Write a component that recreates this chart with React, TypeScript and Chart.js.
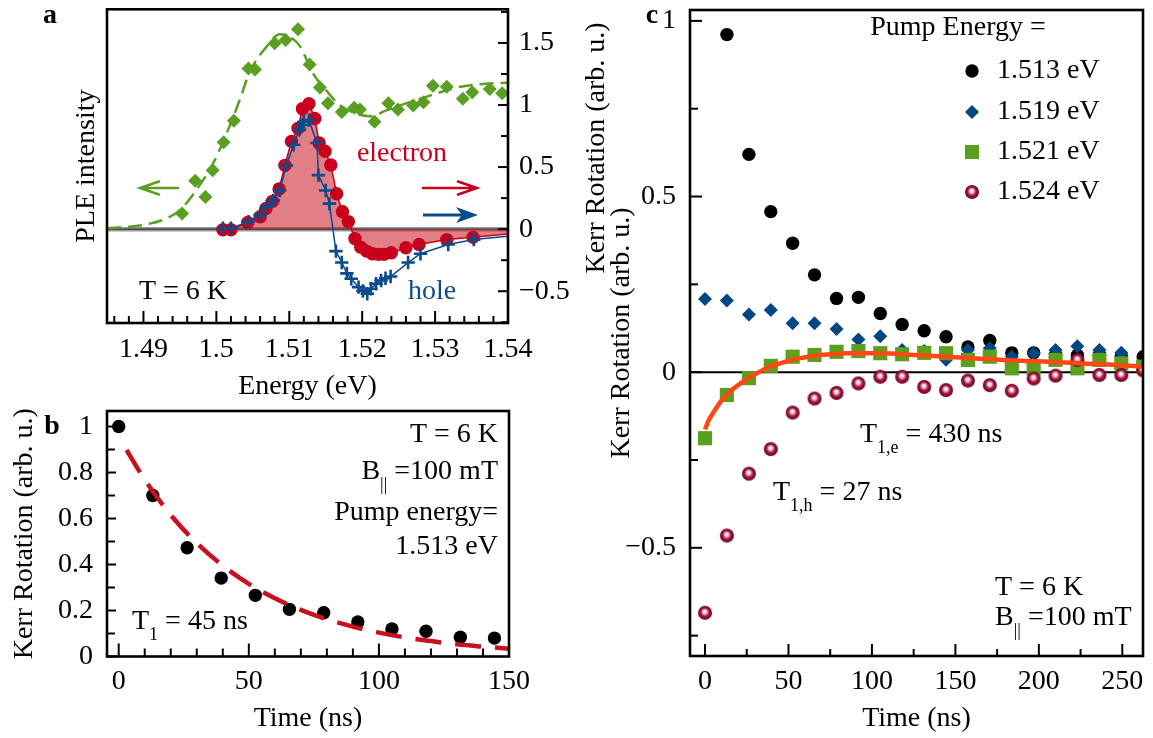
import React, { useEffect, useRef } from 'react';
import { Chart, registerables } from 'chart.js';

Chart.register(...registerables);

const FONT = '"Liberation Serif", "Times New Roman", Times, serif';
Chart.defaults.font.family = FONT;
Chart.defaults.font.size = 28;
Chart.defaults.color = '#000';

// ---------- Panel a : PLE + Kerr spectra ----------
const pleE = [1.4953, 1.4971, 1.4985, 1.4995, 1.5010, 1.5024, 1.5044, 1.5053, 1.5080, 1.5095, 1.5112, 1.5128, 1.5142, 1.5153, 1.5172, 1.5189, 1.5197, 1.5217, 1.5236, 1.5249, 1.5270, 1.5284, 1.5297, 1.5316, 1.5338, 1.5351, 1.5375, 1.5392];
const pleV = [0.127, 0.39, 0.258, 0.475, 0.70, 0.873, 1.295, 1.287, 1.498, 1.524, 1.611, 1.327, 1.142, 1.015, 0.944, 0.978, 0.963, 0.865, 1.015, 0.963, 0.997, 1.023, 1.155, 1.147, 1.05, 1.102, 1.129, 1.095];
const pleFitE = [1.485, 1.488, 1.490, 1.4932, 1.4950, 1.4973, 1.4996, 1.5014, 1.5032, 1.5046, 1.5069, 1.5087, 1.5101, 1.5115, 1.5133, 1.5151, 1.5169, 1.5192, 1.5211, 1.5233, 1.5261, 1.5293, 1.5329, 1.5361, 1.54];
const pleFitV = [0.008, 0.02, 0.034, 0.087, 0.153, 0.32, 0.535, 0.77, 1.04, 1.27, 1.47, 1.57, 1.55, 1.47, 1.25, 1.115, 1.0, 0.93, 0.91, 0.957, 1.015, 1.076, 1.14, 1.168, 1.18];
const elE = [1.5009, 1.5020, 1.5043, 1.5060, 1.5068, 1.5077, 1.5086, 1.5094, 1.5103, 1.5112, 1.5118, 1.5127, 1.5135, 1.5141, 1.5149, 1.5157, 1.5165, 1.5173, 1.5181, 1.5190, 1.5198, 1.5206, 1.5214, 1.5222, 1.5230, 1.5240, 1.5260, 1.5278, 1.5316, 1.5352];
const elV = [-0.005, -0.005, 0.053, 0.10, 0.166, 0.224, 0.324, 0.514, 0.707, 0.812, 0.97, 1.01, 0.891, 0.694, 0.628, 0.517, 0.285, 0.14, 0.061, -0.076, -0.145, -0.177, -0.198, -0.203, -0.203, -0.19, -0.15, -0.124, -0.084, -0.066];
const elEdgeE = [1.54];
const elEdgeV = [-0.04];
const holeE = [1.5009, 1.5020, 1.5044, 1.5060, 1.5069, 1.5078, 1.5087, 1.5096, 1.5106, 1.5114, 1.5117, 1.5120, 1.5127, 1.5138, 1.5140, 1.5150, 1.5155, 1.5164, 1.5172, 1.5179, 1.5185, 1.5195, 1.5201, 1.5207, 1.5212, 1.5219, 1.5226, 1.5232, 1.5239, 1.5263, 1.5280, 1.5318, 1.5353];
const holeV = [0.008, 0.008, 0.06, 0.113, 0.18, 0.232, 0.311, 0.514, 0.68, 0.80, 0.839, 0.865, 0.878, 0.694, 0.435, 0.311, 0.206, -0.177, -0.269, -0.356, -0.40, -0.467, -0.498, -0.52, -0.48, -0.44, -0.414, -0.396, -0.382, -0.269, -0.198, -0.124, -0.084];
const holeEdgeE = [1.54];
const holeEdgeV = [-0.058];
const aXTicks = [1.49, 1.5, 1.51, 1.52, 1.53, 1.54];
const aYTicks = [-0.5, 0, 0.5, 1, 1.5];

// ---------- Panel b : decay at 1.513 eV ----------
const bT = [0, 13.1, 26.3, 39.4, 52.5, 65.6, 78.8, 91.9, 105, 118.1, 131.3, 144.4];
const bV = [1.0, 0.70, 0.473, 0.341, 0.266, 0.205, 0.19, 0.15, 0.12, 0.11, 0.084, 0.08];
const bFitT = [3, 10, 20, 30, 40, 50, 60, 70, 80, 90, 100, 110, 120, 130, 140, 150];
const bFitV = [0.898, 0.769, 0.615, 0.493, 0.395, 0.316, 0.253, 0.203, 0.162, 0.130, 0.104, 0.083, 0.067, 0.053, 0.043, 0.034];
const bXTicks = [0, 50, 100, 150];
const bYTicks = [0, 0.2, 0.4, 0.6, 0.8, 1];

// ---------- Panel c : decays for four pump energies ----------
const cLabels = ['1.513 eV', '1.519 eV', '1.521 eV', '1.524 eV'];
const cT = [0, 13.1, 26.3, 39.4, 52.5, 65.6, 78.8, 91.9, 105, 118.1, 131.3, 144.4, 157.5, 170.6, 183.8, 196.9, 210, 223.1, 236.3, 249.4, 262.5];
const c1513 = [null, 0.961, 0.62, 0.457, 0.367, 0.277, 0.21, 0.213, 0.167, 0.136, 0.118, 0.101, 0.072, 0.09, 0.055, 0.055, 0.05, 0.048, 0.05, 0.046, 0.044];
const c1519 = [0.208, 0.204, 0.164, 0.177, 0.139, 0.139, 0.123, 0.093, 0.102, 0.063, 0.06, 0.035, 0.063, 0.068, 0.044, 0.054, 0.063, 0.074, 0.063, 0.055, null];
const c1521 = [-0.188, -0.065, -0.017, 0.018, 0.044, 0.049, 0.058, 0.06, 0.054, 0.051, 0.055, 0.054, 0.035, 0.044, 0.011, 0.011, 0.035, 0.011, 0.035, 0.025, 0.016];
const c1524 = [-0.685, -0.465, -0.289, -0.219, -0.115, -0.075, -0.059, -0.032, -0.013, -0.013, -0.042, -0.051, -0.024, -0.037, -0.053, -0.018, -0.01, 0.035, -0.008, -0.008, 0.005];
const cFitT = [0, 2, 5, 10, 15, 20, 25, 31, 38, 45, 55, 65, 75, 85, 105, 125, 145, 165, 185, 205, 225, 245, 262.4];
const cFitV = [-0.163, -0.139, -0.115, -0.08, -0.055, -0.036, -0.02, -0.003, 0.014, 0.025, 0.038, 0.046, 0.051, 0.054, 0.054, 0.049, 0.044, 0.038, 0.033, 0.03, 0.025, 0.021, 0.016];
const cXTicks = [0, 50, 100, 150, 200, 250];
const cYTicks = [-0.5, 0, 0.5, 1];

// ---------- colours ----------
const RED = '#c8001c';
const BLUE = '#0b4b8c';
const GREEN = '#5a9e22';
const FIT_RED = '#c8101e';
const ORANGE = '#ff4814';
const C_BLUE = '#004783';
const C_GREEN = '#5aa01e';

const pts = (xs: number[], ys: (number | null)[]) =>
  xs.map((x, i) => ({ x, y: ys[i] })).filter((p) => p.y !== null && p.y !== undefined);

const fmt = (v: number | string) => {
  const n = Number(v);
  return n < 0 ? '\u2212' + String(Math.abs(n)) : String(n);
};

const zeroPad = (s: any) => {
  s.paddingTop = 0; s.paddingBottom = 0; s.paddingLeft = 0; s.paddingRight = 0;
};

function scaleCfg(o: {
  pos: 'left' | 'right' | 'bottom'; min: number; max: number; ticks?: number[];
  pad?: number; size: number; title?: string; titlePad?: { top: number; bottom: number };
}) {
  const horiz = o.pos === 'bottom';
  return {
    type: 'linear',
    position: o.pos,
    min: o.min,
    max: o.max,
    afterBuildTicks: o.ticks ? (s: any) => { s.ticks = o.ticks!.map((v) => ({ value: v })); } : undefined,
    ticks: { display: !!o.ticks, padding: o.pad ?? 10, autoSkip: false, maxRotation: 0, minRotation: 0, callback: fmt, font: { size: 28 }, color: '#000' },
    grid: { display: false, drawTicks: false },
    border: { display: false },
    title: o.title ? { display: true, text: o.title, padding: o.titlePad, font: { size: 28 }, color: '#000' } : { display: false },
    afterFit: (s: any) => { if (horiz) s.height = o.size; else s.width = o.size; zeroPad(s); },
  } as any;
}

function inTicks(ctx: CanvasRenderingContext2D, scale: any, side: string, major: number, minor: number, majLen: number, minLen: number, ca: any) {
  ctx.save();
  ctx.strokeStyle = '#000';
  ctx.lineWidth = 2;
  const start = Math.ceil(scale.min / minor - 1e-9);
  const end = Math.floor(scale.max / minor + 1e-9);
  for (let k = start; k <= end; k++) {
    const v = k * minor;
    const r = v / major;
    const isMaj = Math.abs(r - Math.round(r)) < 1e-6;
    const len = isMaj ? majLen : minLen;
    const p = scale.getPixelForValue(v);
    ctx.beginPath();
    if (side === 'bottom') { ctx.moveTo(p, ca.bottom); ctx.lineTo(p, ca.bottom - len); }
    else if (side === 'left') { ctx.moveTo(ca.left, p); ctx.lineTo(ca.left + len, p); }
    else { ctx.moveTo(ca.right, p); ctx.lineTo(ca.right - len, p); }
    ctx.stroke();
  }
  ctx.restore();
}

function frame(ctx: CanvasRenderingContext2D, ca: any) {
  ctx.save();
  ctx.strokeStyle = '#000';
  ctx.lineWidth = 2.6;
  ctx.strokeRect(ca.left, ca.top, ca.right - ca.left, ca.bottom - ca.top);
  ctx.restore();
}

type Seg = { t: string; sub?: boolean };
function text(ctx: CanvasRenderingContext2D, segs: Seg[], x: number, y: number, align: 'left' | 'right' | 'center', color = '#000', size = 28, bold = false) {
  ctx.save();
  ctx.fillStyle = color;
  ctx.textBaseline = 'middle';
  ctx.textAlign = 'left';
  const subSize = 18;
  const fontOf = (s: Seg) => `${bold ? 'bold ' : ''}${s.sub ? subSize : size}px ${FONT}`;
  const widths = segs.map((s) => { ctx.font = fontOf(s); return ctx.measureText(s.t).width; });
  const total = widths.reduce((a, b) => a + b, 0);
  let cx = align === 'left' ? x : align === 'right' ? x - total : x - total / 2;
  segs.forEach((s, i) => {
    ctx.font = fontOf(s);
    ctx.fillText(s.t, cx, s.sub ? y + 13 : y);
    cx += widths[i];
  });
  ctx.restore();
}

function rotText(ctx: CanvasRenderingContext2D, s: string, x: number, y: number) {
  ctx.save();
  ctx.translate(x, y);
  ctx.rotate(-Math.PI / 2);
  ctx.font = `28px ${FONT}`;
  ctx.fillStyle = '#000';
  ctx.textAlign = 'center';
  ctx.textBaseline = 'middle';
  ctx.fillText(s, 0, 0);
  ctx.restore();
}

function openArrow(ctx: CanvasRenderingContext2D, tail: number, tip: number, y: number, color: string) {
  const dir = tip > tail ? 1 : -1;
  ctx.save();
  ctx.strokeStyle = color;
  ctx.lineWidth = 2.5;
  ctx.lineCap = 'round';
  ctx.beginPath();
  ctx.moveTo(tail, y); ctx.lineTo(tip, y);
  ctx.moveTo(tip - dir * 19, y - 6.5); ctx.lineTo(tip, y); ctx.lineTo(tip - dir * 19, y + 6.5);
  ctx.stroke();
  ctx.restore();
}

function filledArrow(ctx: CanvasRenderingContext2D, tail: number, tip: number, y: number, color: string) {
  ctx.save();
  ctx.strokeStyle = color;
  ctx.fillStyle = color;
  ctx.lineWidth = 3;
  ctx.beginPath();
  ctx.moveTo(tail, y); ctx.lineTo(tip - 10, y);
  ctx.stroke();
  ctx.beginPath();
  ctx.moveTo(tip, y);
  ctx.lineTo(tip - 22, y - 8);
  ctx.lineTo(tip - 16, y);
  ctx.lineTo(tip - 22, y + 8);
  ctx.closePath();
  ctx.fill();
  ctx.restore();
}

function makeSphere(r: number) {
  const c = document.createElement('canvas');
  const s = Math.ceil(r * 2 + 2);
  c.width = s; c.height = s;
  const g = c.getContext('2d')!;
  const cx = s / 2, cy = s / 2;
  const grad = g.createRadialGradient(cx - r * 0.05, cy - r * 0.2, 0, cx, cy, r);
  grad.addColorStop(0, '#ffffff');
  grad.addColorStop(0.25, '#f2d3db');
  grad.addColorStop(0.6, '#a3163d');
  grad.addColorStop(1, '#6b0020');
  g.fillStyle = grad;
  g.beginPath();
  g.arc(cx, cy, r, 0, Math.PI * 2);
  g.fill();
  return c;
}

const common = {
  responsive: false,
  animation: false,
  events: [] as any[],
  plugins: { legend: { display: false }, tooltip: { enabled: false } },
};

// ---------- Chart a ----------
function makeA(canvas: HTMLCanvasElement) {
  const deco = {
    id: 'decoA',
    beforeDatasetsDraw(chart: any) {
      const { ctx, chartArea: ca } = chart;
      const y0 = chart.scales.y.getPixelForValue(0);
      ctx.save();
      ctx.strokeStyle = '#9a9a9a'; ctx.lineWidth = 4.5;
      ctx.beginPath(); ctx.moveTo(ca.left, y0); ctx.lineTo(ca.right, y0); ctx.stroke();
      ctx.strokeStyle = '#333'; ctx.lineWidth = 1.2;
      ctx.beginPath(); ctx.moveTo(ca.left, y0); ctx.lineTo(ca.right, y0); ctx.stroke();
      ctx.restore();
    },
    afterDraw(chart: any) {
      const { ctx, chartArea: ca, scales } = chart;
      inTicks(ctx, scales.x, 'bottom', 0.01, 0.002, 12, 7, ca);
      inTicks(ctx, scales.y, 'right', 0.5, 0.25, 10, 7, ca);
      frame(ctx, ca);
      text(ctx, [{ t: 'a' }], 50, 16, 'center', '#000', 28, true);
      text(ctx, [{ t: 'electron' }], 402, 154, 'center', RED);
      text(ctx, [{ t: 'hole' }], 432, 292, 'center', BLUE);
      text(ctx, [{ t: 'T = 6 K' }], 183, 292, 'center');
      rotText(ctx, 'Kerr Rotation (arb. u.)', 597, 148);
      openArrow(ctx, 178, 140, 188, GREEN);
      openArrow(ctx, 423, 477, 188, RED);
      filledArrow(ctx, 423, 478, 215, BLUE);
    },
  };
  return new Chart(canvas, {
    type: 'scatter',
    data: {
      datasets: [
        {
          label: 'hole',
          data: pts([...holeE, ...holeEdgeE], [...holeV, ...holeEdgeV]),
          showLine: true, borderColor: BLUE, borderWidth: 1.5, tension: 0,
          pointStyle: 'cross',
          pointRadius: (c: any) => (c.dataIndex < holeE.length ? 6.7 : 0),
          pointBorderColor: BLUE, pointBorderWidth: 2.6, pointBackgroundColor: BLUE,
          yAxisID: 'y', order: 0,
        },
        {
          label: 'electron',
          data: pts([...elE, ...elEdgeE], [...elV, ...elEdgeV]),
          showLine: true, borderColor: RED, borderWidth: 1.5, tension: 0,
          fill: { target: 'origin', above: 'rgba(200,20,35,0.55)', below: 'rgba(200,20,35,0.55)' },
          backgroundColor: 'rgba(200,20,35,0.55)',
          pointRadius: (c: any) => (c.dataIndex < elE.length ? 6.7 : 0),
          pointBackgroundColor: RED, pointBorderColor: RED, pointBorderWidth: 0,
          yAxisID: 'y', order: 1,
        },
        {
          label: 'PLE',
          data: pts(pleE, pleV),
          pointStyle: 'rectRot', pointRadius: 7, pointBackgroundColor: GREEN, pointBorderWidth: 0,
          yAxisID: 'yL', order: 2,
        },
        {
          label: 'PLE fit',
          data: pts(pleFitE, pleFitV),
          showLine: true, borderColor: GREEN, borderWidth: 2.5, borderDash: [14, 7],
          cubicInterpolationMode: 'monotone', pointRadius: 0,
          yAxisID: 'yL', order: 3,
        },
      ] as any,
    },
    options: {
      ...common,
      layout: { padding: { top: 4, right: 0, bottom: 0, left: 0 } },
      scales: {
        x: scaleCfg({ pos: 'bottom', min: 1.485, max: 1.54, ticks: aXTicks, pad: 10, size: 81, title: 'Energy (eV)', titlePad: { top: 0, bottom: 1 } }),
        y: scaleCfg({ pos: 'right', min: -0.756, max: 1.771, ticks: aYTicks, pad: 11, size: 102 }),
        yL: scaleCfg({ pos: 'left', min: -0.756, max: 1.771, size: 107, title: 'PLE intensity', titlePad: { top: 70, bottom: 0 } }),
      },
    } as any,
    plugins: [deco],
  });
}

// ---------- Chart b ----------
function makeB(canvas: HTMLCanvasElement) {
  const deco = {
    id: 'decoB',
    afterDraw(chart: any) {
      const { ctx, chartArea: ca, scales } = chart;
      inTicks(ctx, scales.x, 'bottom', 50, 10, 13, 8, ca);
      inTicks(ctx, scales.y, 'left', 0.2, 0.1, 9, 8, ca);
      frame(ctx, ca);
      text(ctx, [{ t: 'b' }], 52, 27, 'center', '#000', 28, true);
      text(ctx, [{ t: 'T = 6 K' }], 498, 35, 'right');
      text(ctx, [{ t: 'B' }, { t: '||', sub: true }, { t: ' =100 mT' }], 498, 72, 'right');
      text(ctx, [{ t: 'Pump energy=' }], 498, 113, 'right');
      text(ctx, [{ t: '1.513 eV' }], 498, 147, 'right');
      text(ctx, [{ t: 'T' }, { t: '1', sub: true }, { t: ' = 45 ns' }], 132, 222, 'left');
    },
  };
  return new Chart(canvas, {
    type: 'scatter',
    data: {
      datasets: [
        {
          label: 'fit',
          data: pts(bFitT, bFitV),
          showLine: true, borderColor: FIT_RED, borderWidth: 4.5, borderDash: [26, 14],
          cubicInterpolationMode: 'monotone', pointRadius: 0, order: 0,
        },
        {
          label: '1.513 eV',
          data: pts(bT, bV),
          pointRadius: 6.7, pointBackgroundColor: '#000', pointBorderWidth: 0, order: 1,
        },
      ] as any,
    },
    options: {
      ...common,
      layout: { padding: { top: 11, right: 51, bottom: 0, left: 0 } },
      scales: {
        x: scaleCfg({ pos: 'bottom', min: -4.5, max: 150, ticks: bXTicks, pad: 8, size: 81.5, title: 'Time (ns)', titlePad: { top: 0, bottom: 3 } }),
        y: scaleCfg({ pos: 'left', min: 0, max: 1.0675, ticks: bYTicks, pad: 14, size: 107, title: 'Kerr Rotation (arb. u.)', titlePad: { top: 8, bottom: 0 } }),
      },
    } as any,
    plugins: [deco],
  });
}

// ---------- Chart c ----------
function makeC(canvas: HTMLCanvasElement) {
  const sphere = makeSphere(7);
  const deco = {
    id: 'decoC',
    beforeDatasetsDraw(chart: any) {
      const { ctx, chartArea: ca } = chart;
      const y0 = chart.scales.y.getPixelForValue(0);
      ctx.save();
      ctx.strokeStyle = '#000'; ctx.lineWidth = 2;
      ctx.beginPath(); ctx.moveTo(ca.left, y0); ctx.lineTo(ca.right, y0); ctx.stroke();
      ctx.restore();
    },
    afterDraw(chart: any) {
      const { ctx, chartArea: ca, scales } = chart;
      inTicks(ctx, scales.x, 'bottom', 50, 25, 12, 7, ca);
      inTicks(ctx, scales.y, 'left', 0.5, 0.25, 12, 8, ca);
      frame(ctx, ca);
      text(ctx, [{ t: 'c' }], 52, 16, 'center', '#000', 28, true);
      // legend
      text(ctx, [{ t: 'Pump Energy =' }], 358, 28, 'center');
      const ys = [71, 112, 152, 192];
      const mx = 372;
      ctx.save();
      ctx.fillStyle = '#000';
      ctx.beginPath(); ctx.arc(mx, ys[0], 6.7, 0, Math.PI * 2); ctx.fill();
      ctx.fillStyle = C_BLUE;
      ctx.beginPath(); ctx.moveTo(mx, ys[1] - 7); ctx.lineTo(mx + 7, ys[1]); ctx.lineTo(mx, ys[1] + 7); ctx.lineTo(mx - 7, ys[1]); ctx.closePath(); ctx.fill();
      ctx.fillStyle = C_GREEN;
      ctx.fillRect(mx - 7, ys[2] - 7, 14, 14);
      ctx.drawImage(sphere, mx - sphere.width / 2, ys[3] - sphere.height / 2);
      ctx.restore();
      cLabels.forEach((l, i) => text(ctx, [{ t: l }], 397, ys[i], 'left'));
      // annotations
      text(ctx, [{ t: 'T' }, { t: '1,e', sub: true }, { t: ' = 430 ns' }], 260, 435, 'left');
      text(ctx, [{ t: 'T' }, { t: '1,h', sub: true }, { t: ' = 27 ns' }], 173, 493, 'left');
      text(ctx, [{ t: 'T = 6 K' }], 395, 588, 'left');
      text(ctx, [{ t: 'B' }, { t: '||', sub: true }, { t: ' =100 mT' }], 395, 618, 'left');
    },
  };
  return new Chart(canvas, {
    type: 'scatter',
    data: {
      datasets: [
        {
          label: 'fit',
          data: pts(cFitT, cFitV),
          showLine: true, borderColor: ORANGE, borderWidth: 4.5,
          cubicInterpolationMode: 'monotone', pointRadius: 0, order: 0, clip: 0,
        },
        {
          label: cLabels[3],
          data: pts(cT, c1524),
          pointStyle: sphere, pointRadius: 7, order: 1, clip: 0,
        },
        {
          label: cLabels[2],
          data: pts(cT, c1521),
          pointStyle: 'rect', pointRadius: 10, pointBackgroundColor: C_GREEN, pointBorderWidth: 0, order: 2, clip: 0,
        },
        {
          label: cLabels[1],
          data: pts(cT, c1519),
          pointStyle: 'rectRot', pointRadius: 7, pointBackgroundColor: C_BLUE, pointBorderWidth: 0, order: 3, clip: 0,
        },
        {
          label: cLabels[0],
          data: pts(cT, c1513),
          pointRadius: 6.7, pointBackgroundColor: '#000', pointBorderWidth: 0, order: 4, clip: 0,
        },
      ] as any,
    },
    options: {
      ...common,
      layout: { padding: { top: 3, right: 9, bottom: 0, left: 0 } },
      scales: {
        x: scaleCfg({ pos: 'bottom', min: -9, max: 262.4, ticks: cXTicks, pad: 9, size: 82, title: 'Time (ns)', titlePad: { top: 0, bottom: 3 } }),
        y: scaleCfg({ pos: 'left', min: -0.808, max: 1.031, ticks: cYTicks, pad: 14, size: 90, title: 'Kerr Rotation (arb. u.)', titlePad: { top: 5, bottom: 0 } }),
      },
    } as any,
    plugins: [deco],
  });
}

function ChartBox(props: { left: number; top: number; width: number; height: number; make: (c: HTMLCanvasElement) => Chart }) {
  const ref = useRef<HTMLCanvasElement>(null);
  useEffect(() => {
    const chart = props.make(ref.current!);
    return () => chart.destroy();
  }, []);
  return (
    <canvas
      ref={ref}
      width={props.width}
      height={props.height}
      style={{ position: 'absolute', left: props.left, top: props.top, width: props.width, height: props.height }}
    />
  );
}

export default function App() {
  return (
    <div style={{ position: 'fixed', left: 0, top: 0, width: 1153, height: 738, background: '#fff', overflow: 'hidden' }}>
      <ChartBox left={0} top={0} width={610} height={404} make={makeA} />
      <ChartBox left={0} top={400} width={560} height={338} make={makeB} />
      <ChartBox left={600} top={0} width={553} height={738} make={makeC} />
    </div>
  );
}
